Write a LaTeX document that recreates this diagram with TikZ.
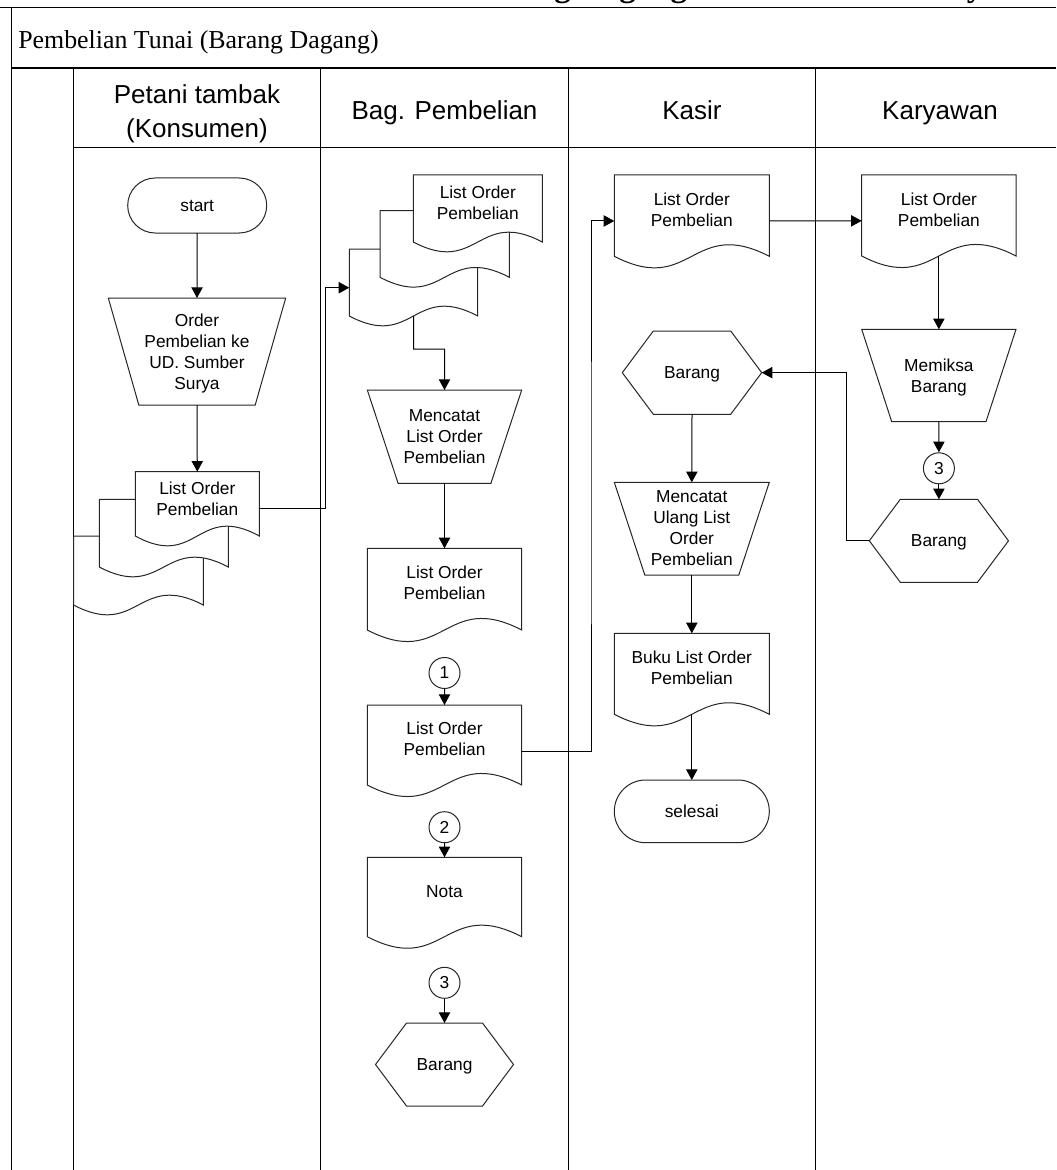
\documentclass[tikz,border=0pt]{standalone}
\usepackage{fontspec}
\setmainfont{Liberation Serif}
\newfontfamily\arialf{Liberation Sans}
\usetikzlibrary{arrows.meta,fit}

\newcommand\shpfont{\arialf\fontsize{13}{15.75}\selectfont}
\newcommand\hdrfont{\arialf\fontsize{19.5}{25.5}\selectfont}

% document symbol: x1, y1, x2, y2 (bottom of the sides), wave depth
\newcommand\flowdoc[5]{%
  \draw[shp] (#1,#2) -- (#3,#2) -- (#3,#4)
    .. controls ({(#1+#3)/2},{#4-#5}) and ({(#1+#3)/2},{#4+#5}) .. (#1,#4) -- cycle;}
% manual operation: xL, xR, yTop, yBottom, inset
\newcommand\flowtrap[5]{%
  \draw[shp] (#1,#3) -- (#2,#3) -- ({#2-#5},#4) -- ({#1+#5},#4) -- cycle;}
% preparation hexagon: xL, xR, yTop, yBottom, inset
\newcommand\flowhex[5]{%
  \draw[shp] (#1,{(#3+#4)/2}) -- ({#1+#5},#3) -- ({#2-#5},#3) -- (#2,{(#3+#4)/2})
    -- ({#2-#5},#4) -- ({#1+#5},#4) -- cycle;}

\tikzset{
  shp/.style={draw=black!85, line width=0.75pt, fill=white},
  shapebox/.style={draw=none, inner sep=0pt, outer sep=0pt},
  lbl/.style={inner sep=0pt, font=\shpfont, align=center, text depth=0pt},
  hdr/.style={inner sep=0pt, font=\hdrfont, align=center},
  lane/.style={draw=black, line width=0.9pt},
  arr/.style={draw=black, line width=0.75pt, -{Triangle[length=8pt,width=8.5pt]}},
  conn/.style={circle, draw=black!85, fill=white, line width=0.75pt, minimum size=23.25pt,
               inner sep=0pt, font=\shpfont},
  term/.style={shp, inner sep=0pt, outer sep=0pt}
}

\begin{document}
\begin{tikzpicture}[x=0.75pt, y=-0.75pt]
\useasboundingbox (0,0) rectangle (1056,1170);

% heading above the table, cut by the page edge
\begin{scope}
  \clip (0,0) rectangle (1056,7);
  \node[anchor=base west, inner sep=0pt, font=\bfseries\fontsize{24.75}{30}\selectfont]
    (toptitle) at (466,-3) {Barang Dagang di UD. Sumber Surya};
\end{scope}

% table frame
\draw[lane] (0,7.5) -- (1056,7.5);
\draw[lane] (11.5,7.5) -- (11.5,1170);
\draw[draw=black, line width=1.5pt] (11.5,68.5) -- (1056,68.5);
\foreach \lx in {73.5,320.5,568.5,815.5}
  \draw[lane] (\lx,69) -- (\lx,1170);
\draw[lane] (73.5,147.5) -- (1056,147.5);

\node[anchor=base west, inner sep=0pt, font=\fontsize{19.4}{24}\selectfont]
  (title) at (18,48.3) {Pembelian Tunai (Barang Dagang)};

% swimlane headers
\node[hdr, anchor=base] (hPetani) at (197,103.3) {Petani tambak};
\node[hdr, anchor=base] (hKonsumen) at (197,137.3) {(Konsumen)};
\node[hdr, anchor=base] (hBag) at (444.5,119.3) {Bag. Pembelian};
\node[hdr, anchor=base] (hKasir) at (692,119.3) {Kasir};
\node[hdr, anchor=base] (hKary) at (940,119.3) {Karyawan};

% ---------- Petani tambak ----------
\node[term, rounded corners=20.6pt, fit={(127.7,178) (266.7,233)}] (start) {};
\node[lbl] (startt) at (197.2,205.5) {start};
\flowtrap{108.3}{285.7}{298}{405}{30.5}
\node[shapebox, fit={(108.3,298) (285.7,405)}] (t1) {};
\node[lbl] (t1t) at (197,351.5) {Order\\Pembelian ke\\UD. Sumber\\Surya};
\flowdoc{73.5}{536}{203.3}{605}{34}
\flowdoc{99.3}{499.3}{228.3}{567}{34}
\flowdoc{135.3}{471.7}{259.3}{536}{34}
\node[shapebox, fit={(135.3,471.7) (259.3,536)}] (m1) {};
\node[lbl] (m1t) at (197.3,498.3) {List Order\\Pembelian};

% ---------- Bag. Pembelian ----------
\flowdoc{349.3}{249}{477.7}{316}{34}
\flowdoc{380}{210.7}{509.3}{277.3}{34}
\flowdoc{413.3}{175}{542.3}{242}{34}
\node[shapebox, fit={(349.3,249) (477.7,316)}] (n3) {};
\node[shapebox, fit={(413.3,175) (542.3,242)}] (n1) {};
\node[lbl] (n1t) at (477.8,202.8) {List Order\\Pembelian};

\flowtrap{367.3}{521.7}{390}{483.3}{30.8}
\node[shapebox, fit={(367.3,390) (521.7,483.3)}] (t2) {};
\node[lbl] (t2t) at (444.5,436.7) {Mencatat\\List Order\\Pembelian};

\flowdoc{367.3}{548.3}{521.7}{630}{40}
\node[shapebox, fit={(367.3,548.3) (521.7,630)}] (d2a) {};
\node[lbl] (d2at) at (444.5,583) {List Order\\Pembelian};

\node[conn] (c1) at (444.5,673) {1};
\flowdoc{367.3}{705}{521.7}{785}{40}
\node[shapebox, fit={(367.3,705) (521.7,785)}] (d2b) {};
\node[lbl] (d2bt) at (444.5,739.2) {List Order\\Pembelian};

\node[conn] (c2) at (444.5,827.2) {2};
\flowdoc{367.3}{857.3}{521.7}{936.7}{40}
\node[shapebox, fit={(367.3,857.3) (521.7,936.7)}] (nota) {};
\node[lbl] (notat) at (444.5,891.7) {Nota};

\node[conn] (c3) at (444.5,982.8) {3};
\flowhex{375.5}{513.5}{1023}{1106}{31}
\node[shapebox, fit={(375.5,1023) (513.5,1106)}] (h2) {};
\node[lbl] (h2t) at (444.5,1064.5) {Barang};

% ---------- Kasir ----------
\flowdoc{614.3}{175}{769.3}{256.3}{40}
\node[shapebox, fit={(614.3,175) (769.3,256.3)}] (d3a) {};
\node[lbl] (d3at) at (691.8,209.6) {List Order\\Pembelian};

\flowhex{622.3}{761.7}{331}{414.3}{31}
\node[shapebox, fit={(622.3,331) (761.7,414.3)}] (h3) {};
\node[lbl] (h3t) at (692,372.7) {Barang};

\flowtrap{614.3}{769.3}{482.3}{575}{30.5}
\node[shapebox, fit={(614.3,482.3) (769.3,575)}] (t3) {};
\node[lbl] (t3t) at (691.8,528.5) {Mencatat\\Ulang List\\Order\\Pembelian};

\flowdoc{614.3}{633.3}{769.3}{714.3}{40}
\node[shapebox, fit={(614.3,633.3) (769.3,714.3)}] (d3b) {};
\node[lbl] (d3bt) at (691.8,668) {Buku List Order\\Pembelian};

\node[term, rounded corners=23.5pt, fit={(614.3,780) (769.3,842.7)}] (sel) {};
\node[lbl] (selt) at (691.8,811.4) {selesai};

% ---------- Karyawan ----------
\flowdoc{861.7}{175}{1016}{256}{40}
\node[shapebox, fit={(861.7,175) (1016,256)}] (d4a) {};
\node[lbl] (d4at) at (938.9,209.5) {List Order\\Pembelian};

\flowtrap{861.7}{1016}{329.3}{421.7}{30}
\node[shapebox, fit={(861.7,329.3) (1016,421.7)}] (t4) {};
\node[lbl] (t4t) at (938.9,375.5) {Memiksa\\Barang};

\node[conn] (c4) at (938.9,468.3) {3};
\flowhex{869.3}{1008.5}{499.3}{582.3}{31}
\node[shapebox, fit={(869.3,499.3) (1008.5,582.3)}] (h4) {};
\node[lbl] (h4t) at (938.9,540.8) {Barang};

% ---------- connectors ----------
\draw[arr] (start.south) -- (t1.north);
\draw[arr] (t1.south) -- (m1.north);
\draw[arr] ([yshift=-3.3pt]m1.east) -| (325.7,400) |- ([yshift=-3.9pt]n3.west);
\draw[arr] (n3.south) |- (444.5,349) -- (t2.north);
\draw[arr] (t2.south) -- (d2a.north);
\draw[arr] (c1.south) -- (d2b.north);
\draw[arr] ([yshift=-4.5pt]d2b.east) -| (591,500) |- ([yshift=-4pt]d3a.west);
\draw[arr] (c2.south) -- (nota.north);
\draw[arr] (c3.south) -- (h2.north);
\draw[arr] ([yshift=-4pt]d3a.east) -- ([yshift=-4pt]d4a.west);
\draw[arr] (d4a.south) -- (t4.north);
\draw[arr] (t4.south) -- (c4.north);
\draw[arr] (c4.south) -- (h4.north);
\draw[arr] (h4.west) -| (846,450) |- (h3.east);
\draw[arr] (h3.south) -- (t3.north);
\draw[arr] (t3.south) -- (d3b.north);
\draw[arr] (d3b.south) -- (sel.north);
\end{tikzpicture}
\end{document}
